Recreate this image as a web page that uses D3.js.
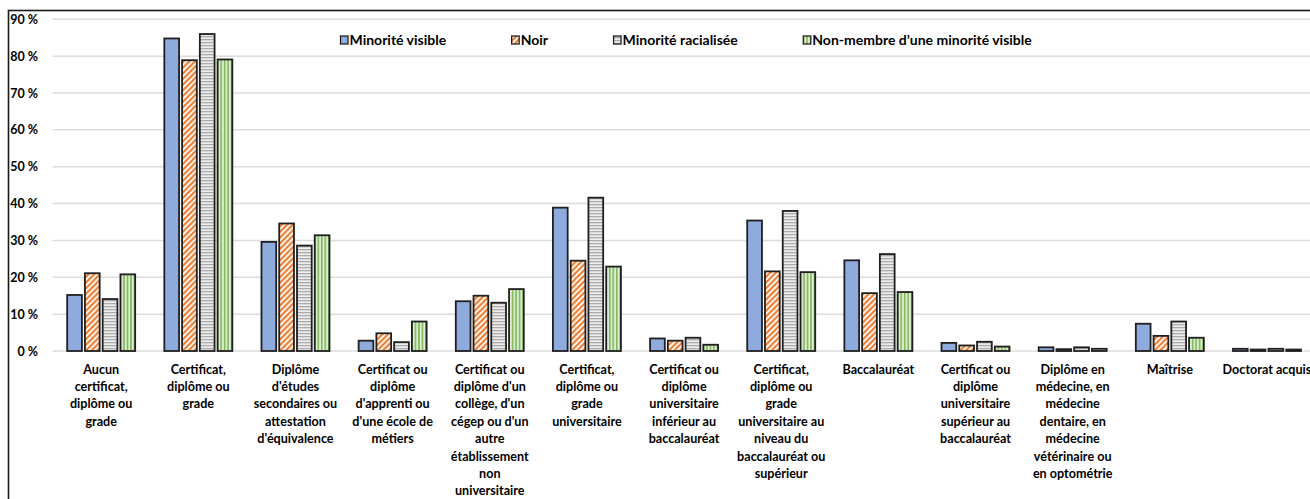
<!DOCTYPE html>
<html><head><meta charset="utf-8">
<script src="https://cdn.jsdelivr.net/npm/d3@7"></script>
<style>
html,body{margin:0;padding:0;background:#fff;overflow:hidden}
svg{display:block;font-family:Lato,"Open Sans",sans-serif;font-weight:700}
</style>
</head><body>
<svg id="chart" width="1310" height="499"></svg>
<script>
// Categories (line breaks as printed under each group)
const categories = [
  "Aucun\ncertificat,\ndiplôme ou\ngrade",
  "Certificat,\ndiplôme ou\ngrade",
  "Diplôme\nd'études\nsecondaires ou\nattestation\nd'équivalence",
  "Certificat ou\ndiplôme\nd'apprenti ou\nd'une école de\nmétiers",
  "Certificat ou\ndiplôme d'un\ncollège, d'un\ncégep ou d'un\nautre\nétablissement\nnon\nuniversitaire",
  "Certificat,\ndiplôme ou\ngrade\nuniversitaire",
  "Certificat ou\ndiplôme\nuniversitaire\ninférieur au\nbaccalauréat",
  "Certificat,\ndiplôme ou\ngrade\nuniversitaire au\nniveau du\nbaccalauréat ou\nsupérieur",
  "Baccalauréat",
  "Certificat ou\ndiplôme\nuniversitaire\nsupérieur au\nbaccalauréat",
  "Diplôme en\nmédecine, en\nmédecine\ndentaire, en\nmédecine\nvétérinaire ou\nen optométrie",
  "Maîtrise",
  "Doctorat acquis"
];
const seriesNames = ["Minorité visible", "Noir", "Minorité racialisée", "Non-membre d’une minorité visible"];

// Percent values per series
const minoriteVisible    = [15.2, 84.8, 29.6, 2.8, 13.5, 38.9, 3.4, 35.4, 24.6, 2.2, 1.0, 7.4, 0.6];
const noir               = [21.1, 78.9, 34.6, 4.8, 15.0, 24.5, 2.8, 21.6, 15.7, 1.5, 0.5, 4.1, 0.4];
const minoriteRacialisee = [14.1, 86.0, 28.6, 2.4, 13.1, 41.6, 3.6, 38.0, 26.3, 2.5, 1.0, 8.0, 0.6];
const nonMembre          = [20.8, 79.1, 31.4, 8.0, 16.8, 22.9, 1.7, 21.4, 16.0, 1.2, 0.6, 3.6, 0.4];

const yTicks = [0, 10, 20, 30, 40, 50, 60, 70, 80, 90];

const seriesValues = [minoriteVisible, noir, minoriteRacialisee, nonMembre];

const svg = d3.select("#chart");
const defs = svg.append("defs");

// Fill patterns for the hatched series
(function () {
  // orange diagonal stripes
  const p1 = defs.append("pattern").attr("id", "pat-orange").attr("patternUnits", "userSpaceOnUse")
    .attr("width", 4).attr("height", 4).attr("patternTransform", "rotate(-45)");
  p1.append("rect").attr("width", 4).attr("height", 4).attr("fill", "#fff");
  p1.append("rect").attr("width", 4).attr("height", 2.2).attr("fill", "#EE7F34");

  // grey horizontal lines
  const p2 = defs.append("pattern").attr("id", "pat-grey").attr("patternUnits", "userSpaceOnUse")
    .attr("width", 4).attr("height", 3);
  p2.append("rect").attr("width", 4).attr("height", 3).attr("fill", "#EDEDED");
  p2.append("rect").attr("width", 4).attr("height", 1.3).attr("fill", "#ABABAB");

  // green vertical lines
  const p3 = defs.append("pattern").attr("id", "pat-green").attr("patternUnits", "userSpaceOnUse")
    .attr("width", 3.5).attr("height", 4);
  p3.append("rect").attr("width", 3.5).attr("height", 4).attr("fill", "#DDEDD2");
  p3.append("rect").attr("width", 1.6).attr("height", 4).attr("fill", "#80B85A");
})();

const fills = ["#8FAADC", "url(#pat-orange)", "url(#pat-grey)", "url(#pat-green)"];

// Plot geometry
const plotLeft = 52.6, step = 97.15;
const plotRight = plotLeft + step * categories.length;
const yTop = 19.3, yBottom = 351;

const x = d3.scaleBand().domain(d3.range(categories.length))
  .range([plotLeft, plotRight]).paddingInner(0.3).paddingOuter(0.15);
const xs = d3.scaleBand().domain(d3.range(seriesNames.length))
  .range([0, x.bandwidth()]).paddingInner(0.17).paddingOuter(0);
const y = d3.scaleLinear().domain([0, 90]).range([yBottom, yTop]);

// Outer chart frame
svg.append("rect").attr("x", 8.5).attr("y", 10.5).attr("width", 1400).attr("height", 600)
  .attr("fill", "none").attr("stroke", "#1a1a1a").attr("stroke-width", 1.6);

// Gridlines
svg.append("g").selectAll("line").data(yTicks).join("line")
  .attr("x1", plotLeft).attr("x2", 1310)
  .attr("y1", d => y(d)).attr("y2", d => y(d))
  .attr("stroke", "#DCDCDC").attr("stroke-width", 1.5);

// Y axis labels
const yAxis = d3.axisLeft(y).tickValues(yTicks).tickFormat(d => d + " %").tickSize(0).tickPadding(0);
svg.append("g").attr("transform", "translate(38,0)").call(yAxis)
  .call(g => g.select(".domain").remove())
  .selectAll("text").attr("font-family", "Lato, sans-serif").attr("font-weight", 700)
  .attr("font-size", 12.5).attr("fill", "#000");

// Bars
const groups = svg.append("g").selectAll("g").data(categories).join("g")
  .attr("transform", (d, i) => `translate(${x(i)},0)`);
groups.selectAll("rect").data((d, i) => seriesValues.map((s, k) => ({ k, v: s[i] }))).join("rect")
  .attr("x", d => xs(d.k)).attr("width", xs.bandwidth())
  .attr("y", d => y(d.v)).attr("height", d => y(0) - y(d.v))
  .attr("fill", d => fills[d.k]).attr("stroke", "#1f1f1f").attr("stroke-width", 1.8);

// Category labels
const lineH = 17.4;
svg.append("g").selectAll("text").data(categories).join("text")
  .attr("x", (d, i) => x(i) + x.bandwidth() / 2)
  .attr("y", 373.5)
  .attr("text-anchor", "middle").attr("font-size", 12.6).attr("fill", "#000")
  .each(function (d) {
    const t = d3.select(this);
    d.split("\n").forEach((line, j) => {
      t.append("tspan").attr("x", t.attr("x")).attr("dy", j === 0 ? 0 : lineH).text(line);
    });
  });

// Legend
const legend = svg.append("g").attr("transform", "translate(340,40)");
let lx = 0;
seriesNames.forEach((name, k) => {
  const g = legend.append("g").attr("transform", `translate(${lx},0)`);
  g.append("rect").attr("x", 0.5).attr("y", -4).attr("width", 7.5).attr("height", 8)
    .attr("fill", fills[k]).attr("stroke", "#1f1f1f").attr("stroke-width", 1.3);
  const t = g.append("text").attr("x", 9.5).attr("y", 4.8).attr("font-size", 14)
    .attr("fill", "#000").text(name);
  const w = t.node().getComputedTextLength();
  lx += 9.5 + w + 65;
});
</script>
</body></html>
